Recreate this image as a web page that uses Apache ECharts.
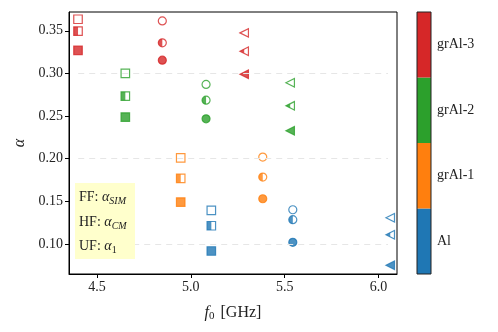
<!DOCTYPE html>
<html><head><meta charset="utf-8">
<script src="https://cdn.jsdelivr.net/npm/echarts@6/dist/echarts.min.js"></script>
<style>html,body{margin:0;padding:0;background:#fff}#c{width:498px;height:332px}</style>
</head><body><div id="c"></div>
<script>
// ---- data ----
const materials = ['Al', 'grAl-1', 'grAl-2', 'grAl-3'];
const xTicks = [4.5, 5.0, 5.5, 6.0];
const yTicks = [0.10, 0.15, 0.20, 0.25, 0.30, 0.35];
const gridLevels = [0.10, 0.20, 0.30];
// squares (index per material: Al, grAl-1, grAl-2, grAl-3)
const squareF0  = [5.109, 4.946, 4.651, 4.399];
const squareSIM = [0.1393, 0.2009, 0.3000, 0.3635];
const squareCM  = [0.1212, 0.1768, 0.2733, 0.3495];
const squareA1  = [0.0916, 0.1490, 0.2487, 0.3270];
// circles
const circleF0  = [5.543, 5.383, 5.081, 4.848];
const circleSIM = [0.1400, 0.2018, 0.2870, 0.3615];
const circleCM  = [0.1283, 0.1783, 0.2686, 0.3358];
const circleA1  = [0.1018, 0.1529, 0.2467, 0.3155];
// triangles (no grAl-1)
const triF0  = [6.062, null, 5.529, 5.284];
const triSIM = [0.1306, null, 0.2889, 0.3475];
const triCM  = [0.1107, null, 0.2619, 0.3260];
const triA1  = [0.0748, null, 0.2326, 0.2990];

// ---- style ----
const colors = ['#1f77b4', '#ff7f0e', '#2ca02c', '#d62728'];
const FONT = 'Liberation Serif';
const shapes = {
  square: {full: 'rect', half: 'rect', size: 8.5, halfSize: [4.25, 8.5], halfOff: [-2.1, 0]},
  circle: {full: 'circle', half: 'path://M50,0 C22.4,0 0,22.4 0,50 C0,77.6 22.4,100 50,100 Z', size: 8, halfSize: [4, 8], halfOff: [-2, 0]},
  tri: {full: 'path://M0,50 L100,0 L100,100 Z', half: 'path://M0,50 L50,25 L50,75 Z', size: 8.5, halfSize: [4.25, 4.25], halfOff: [-2.1, 0]}
};

function pts(xs, ys, mode) {
  const out = [];
  xs.forEach((x, i) => {
    if (x == null) return;
    const c = colors[i];
    out.push({
      value: [x, ys[i]],
      itemStyle: mode === 'open'
        ? {color: '#fff', borderColor: c, borderWidth: 1.2}
        : mode === 'fill'
          ? {color: c, borderColor: c, borderWidth: 1.2}
          : {color: c, borderWidth: 0}
    });
  });
  return out;
}
function sc(shape, data, mode, z) {
  const s = shapes[shape];
  const half = mode === 'half';
  return {
    type: 'scatter', xAxisIndex: 0, yAxisIndex: 0, z: z,
    symbol: half ? s.half : s.full,
    symbolSize: half ? s.halfSize : s.size,
    symbolOffset: half ? s.halfOff : [0, 0],
    data: data, silent: true, animation: false
  };
}
const series = [];
[['square', squareF0, squareSIM, squareCM, squareA1],
 ['circle', circleF0, circleSIM, circleCM, circleA1],
 ['tri', triF0, triSIM, triCM, triA1]].forEach(([sh, xs, sim, cm, a1]) => {
  series.push(sc(sh, pts(xs, sim, 'open'), 'open', 3));
  series.push(sc(sh, pts(xs, cm, 'open'), 'open', 3));
  series.push(sc(sh, pts(xs, cm, 'half'), 'half', 4));
  series.push(sc(sh, pts(xs, a1, 'fill'), 'fill', 3));
});
// dashed reference lines
series.push({
  type: 'line', xAxisIndex: 0, yAxisIndex: 0, data: [], z: 1,
  markLine: {
    silent: true, symbol: ['none', 'none'], label: {show: false},
    lineStyle: {color: '#e6e6e6', type: [6, 5], width: 1.2},
    data: gridLevels.map(v => [{coord: [4.4, v]}, {coord: [6.05, v]}])
  }
});
// colorbar
series.push({
  type: 'bar', xAxisIndex: 1, yAxisIndex: 1, barWidth: '100%', barCategoryGap: 0,
  data: materials.map((m, i) => ({value: 1, itemStyle: {color: colors[i]}})),
  silent: true, animation: false
});

const chart = echarts.init(document.getElementById('c'), null, {renderer: 'canvas'});
chart.setOption({
  animation: false,
  backgroundColor: '#fff',
  textStyle: {fontFamily: FONT},
  grid: [
    {left: 69, top: 12, width: 328, height: 262, show: true, borderColor: '#000', borderWidth: 1, backgroundColor: 'transparent'},
    {left: 417, top: 12, width: 14, height: 262, show: true, borderColor: '#222', borderWidth: 1, z: 5}
  ],
  xAxis: [
    {gridIndex: 0, type: 'value', min: 4.351, max: 6.098,
     axisLine: {lineStyle: {color: '#000', width: 1}},
     axisTick: {length: 4, lineStyle: {color: '#000'}, customValues: xTicks},
     axisLabel: {customValues: xTicks, formatter: v => v.toFixed(1), color: '#222', fontSize: 14, fontFamily: FONT, margin: 6},
     splitLine: {show: false},
     name: '{i|f}{s|0} [GHz]', nameLocation: 'middle', nameGap: 29,
     nameTextStyle: {fontFamily: FONT, fontSize: 16, color: '#222',
       rich: {i: {fontStyle: 'italic', fontSize: 16, fontFamily: FONT, color: '#222'},
              s: {fontSize: 11, fontFamily: FONT, color: '#222', verticalAlign: 'bottom', padding: [8, 2, 0, 0]}}}
    },
    {gridIndex: 1, type: 'value', min: 0, max: 1, show: false}
  ],
  yAxis: [
    {gridIndex: 0, type: 'value', min: 0.0646, max: 0.372,
     axisLine: {lineStyle: {color: '#000', width: 1}},
     axisTick: {length: 4, lineStyle: {color: '#000'}, customValues: yTicks},
     axisLabel: {customValues: yTicks, formatter: v => v.toFixed(2), color: '#222', fontSize: 14, fontFamily: FONT, margin: 6},
     splitLine: {show: false},
     name: 'α', nameLocation: 'middle', nameGap: 41, nameRotate: 90,
     nameTextStyle: {fontFamily: FONT, fontSize: 16, fontStyle: 'italic', color: '#222'}
    },
    {gridIndex: 1, type: 'category', data: materials, position: 'right',
     axisLine: {show: false},
     axisTick: {alignWithLabel: true, length: 3, lineStyle: {color: '#222'}},
     axisLabel: {color: '#222', fontSize: 14, fontFamily: FONT, margin: 6}
    },
    {gridIndex: 1, type: 'category', data: materials, position: 'right',
     axisLine: {show: false},
     axisTick: {alignWithLabel: false, length: 2, lineStyle: {color: '#222'}},
     axisLabel: {show: false}
    }
  ],
  graphic: [
    {type: 'rect', left: 75, top: 183, shape: {width: 60, height: 76}, style: {fill: '#ffffcc'}, z: 10},
    ...[['FF: ', 'SIM', 197], ['HF: ', 'CM', 222], ['UF: ', '1', 246]].map(([p, sub, y]) => ({
      type: 'text', x: 79, y: y, z: 11,
      style: {
        text: '{n|' + p + '}{a|α}{s|' + sub + '}',
        verticalAlign: 'middle',
        rich: {
          n: {fontFamily: FONT, fontSize: 14, fill: '#222', lineHeight: 18},
          a: {fontFamily: FONT, fontSize: 14, fontStyle: 'italic', fill: '#222', lineHeight: 18},
          s: {fontFamily: FONT, fontSize: 10, fontStyle: sub === '1' ? 'normal' : 'italic', fill: '#222', verticalAlign: 'bottom', lineHeight: 12}
        }
      }
    }))
  ],
  series: series
});
</script></body></html>
